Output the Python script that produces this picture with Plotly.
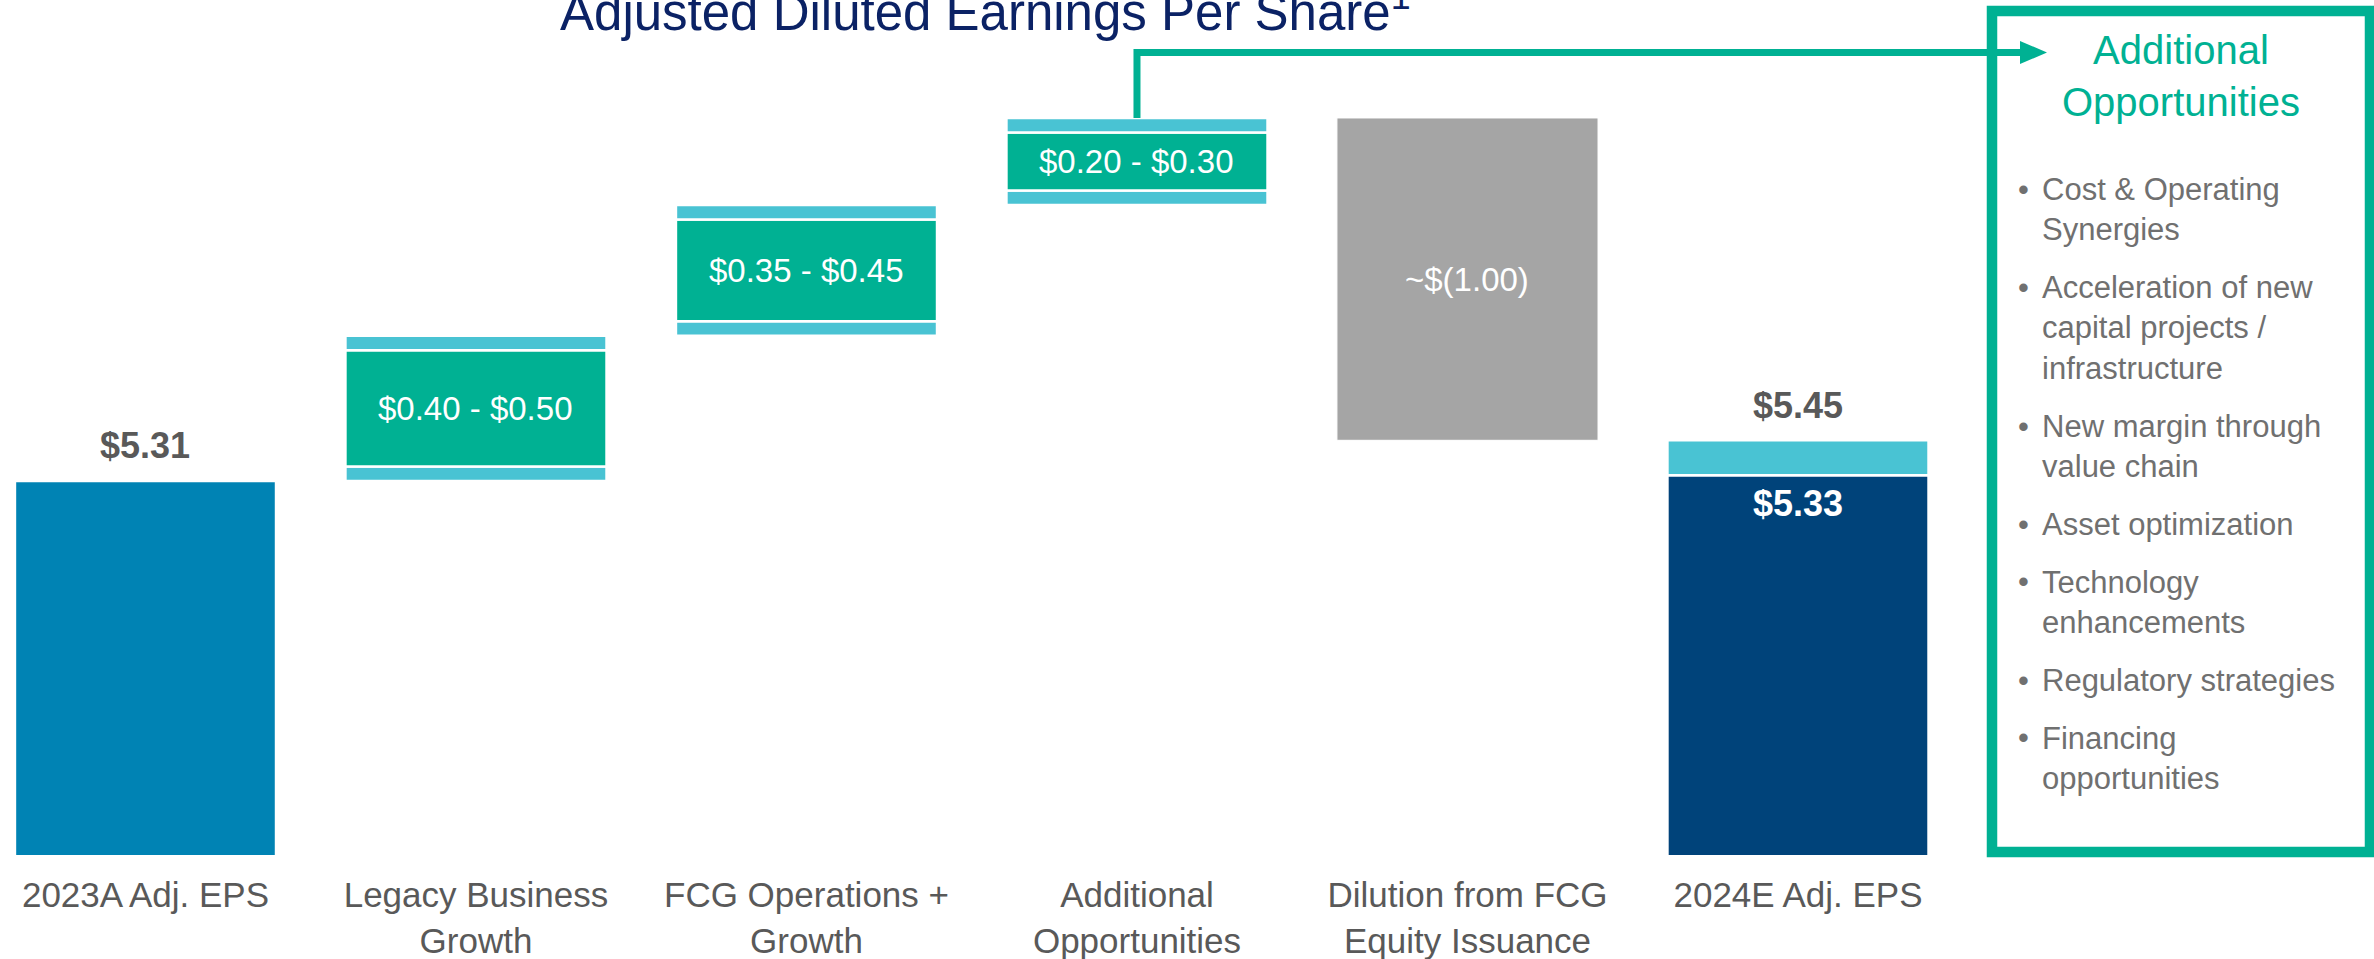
import plotly.graph_objects as go

# ---------------- data ----------------
categories = ["2023A Adj. EPS", "Legacy Business<br>Growth", "FCG Operations +<br>Growth",
              "Additional<br>Opportunities", "Dilution from FCG<br>Equity Issuance", "2024E Adj. EPS"]
start_eps = 5.31
start_label = "$5.31"
range_low = [0.40, 0.35, 0.20]
range_high = [0.50, 0.45, 0.30]
range_labels = ["$0.40 - $0.50", "$0.35 - $0.45", "$0.20 - $0.30"]
dilution_label = "~$(1.00)"
end_eps_low = 5.33
end_eps_high = 5.45
end_low_label = "$5.33"
end_high_label = "$5.45"
title_text = "Adjusted Diluted Earnings Per Share<sup>1</sup>"
box_title = "Additional<br>Opportunities"
bullets = ["Cost & Operating<br>Synergies",
           "Acceleration of new<br>capital projects /<br>infrastructure",
           "New margin through<br>value chain",
           "Asset optimization",
           "Technology<br>enhancements",
           "Regulatory strategies",
           "Financing<br>opportunities"]

# ---------------- styles ----------------
BLUE = "#0083B4"
NAVY = "#00437A"
GREEN = "#00B193"
CYAN = "#49C3D3"
GRAY = "#A5A5A5"
TXT = "#595959"
BUL = "#707070"
TITLE = "#0B2265"
FONT = "Liberation Sans, Arial, sans-serif"

W, H = 2374, 959
MB = 104
PH = H - MB
X0, X1 = -0.4402, -0.4402 + W / 330.5
Y0, Y1 = 4.022, 4.022 + PH / 290.4
BW = 0.79

def px_x(px):
    return px / W

def px_y(py):
    return 1 - py / PH

def data_x_px(x):
    return (x - X0) / (X1 - X0) * W

def data_y_px(y):
    return (Y1 - y) / (Y1 - Y0) * PH

# waterfall bases
range_x = [1, 2, 3]
range_base = []
cur = start_eps
for lo, hi in zip(range_low, range_high):
    range_base.append(cur)
    cur += hi
top_after = cur
band = [(hi - lo) / 2 for lo, hi in zip(range_low, range_high)]

fig = go.Figure()
line = dict(color="white", width=2.5)
fig.add_trace(go.Bar(x=[0, 5], y=[start_eps, end_eps_low], base=[0, 0], width=BW,
                     marker=dict(color=[BLUE, NAVY], line=line), hoverinfo="skip"))
fig.add_trace(go.Bar(x=[5], y=[end_eps_high - end_eps_low], base=[end_eps_low], width=BW,
                     marker=dict(color=CYAN, line=line), hoverinfo="skip"))
fig.add_trace(go.Bar(x=range_x, y=band, base=range_base, width=BW,
                     marker=dict(color=CYAN, line=line), hoverinfo="skip"))
green_base = [b + d for b, d in zip(range_base, band)]
fig.add_trace(go.Bar(x=range_x, y=range_low, base=green_base, width=BW,
                     marker=dict(color=GREEN, line=line), hoverinfo="skip"))
upper_base = [g + lo for g, lo in zip(green_base, range_low)]
fig.add_trace(go.Bar(x=range_x, y=band, base=upper_base, width=BW,
                     marker=dict(color=CYAN, line=line), hoverinfo="skip"))
fig.add_trace(go.Bar(x=[4], y=[top_after - end_eps_high], base=[end_eps_high], width=BW,
                     marker=dict(color=GRAY, line=dict(color="white", width=1)), hoverinfo="skip"))

ann = []
# totals
ann.append(dict(x=0, y=start_eps, text=f"<b>{start_label}</b>", showarrow=False, yanchor="middle",
                yshift=35, font=dict(size=36, color=TXT, family=FONT)))
ann.append(dict(x=5, y=end_eps_high, text=f"<b>{end_high_label}</b>", showarrow=False, yanchor="middle",
                yshift=35, font=dict(size=36, color=TXT, family=FONT)))
ann.append(dict(x=5, y=end_eps_low, text=f"<b>{end_low_label}</b>", showarrow=False, yanchor="middle",
                yshift=-28, font=dict(size=36, color="white", family=FONT)))
# range labels
for xi, g, lo, lab in zip(range_x, green_base, range_low, range_labels):
    ann.append(dict(x=xi, y=g + lo / 2, text=lab, showarrow=False, yanchor="middle",
                    font=dict(size=33, color="white", family=FONT)))
ann.append(dict(x=4, y=(top_after + end_eps_high) / 2, text=dilution_label, showarrow=False,
                yanchor="middle", font=dict(size=33, color="white", family=FONT)))
# title
ann.append(dict(xref="paper", yref="paper", x=px_x(985), y=px_y(9), text=title_text, showarrow=False,
                xanchor="center", yanchor="middle", font=dict(size=51, color=TITLE, family=FONT)))
# box title
ann.append(dict(xref="paper", yref="paper", x=px_x(2181), y=px_y(76), text=box_title, showarrow=False,
                xanchor="center", yanchor="middle", align="center",
                font=dict(size=40, color=GREEN, family=FONT)))
# bullets
LH = 40.6
GAP = 17
baseline = 200
for b in bullets:
    n = b.count("<br>") + 1
    cy = baseline + (n - 1) * LH / 2 - 10.9
    ann.append(dict(xref="paper", yref="paper", x=px_x(2040), y=px_y(cy), text=b, showarrow=False,
                    xanchor="left", yanchor="middle", align="left",
                    font=dict(size=31, color=BUL, family=FONT)))
    ann.append(dict(xref="paper", yref="paper", x=px_x(2023), y=px_y(baseline - 10.9), text="•",
                    showarrow=False, xanchor="center", yanchor="middle",
                    font=dict(size=31, color=BUL, family=FONT)))
    baseline += (n - 1) * LH + LH + GAP

shapes = []
# box
shapes.append(dict(type="rect", xref="paper", yref="paper", x0=px_x(1992), x1=px_x(2370),
                   y0=px_y(852), y1=px_y(11), line=dict(color=GREEN, width=10.5), layer="above"))
# connector
cx = data_x_px(3)
cy_top = data_y_px(top_after)
path = (f"M {px_x(cx)},{px_y(cy_top)} L {px_x(cx)},{px_y(52.5)} L {px_x(2022)},{px_y(52.5)}")
shapes.append(dict(type="path", xref="paper", yref="paper", path=path,
                   line=dict(color=GREEN, width=7), layer="above"))
head = (f"M {px_x(2020)},{px_y(41)} L {px_x(2047)},{px_y(52.5)} L {px_x(2020)},{px_y(64)} Z")
shapes.append(dict(type="path", xref="paper", yref="paper", path=head, fillcolor=GREEN,
                   line=dict(color=GREEN, width=0), layer="above"))

fig.update_layout(
    width=W, height=H, margin=dict(l=0, r=0, t=0, b=MB, pad=0),
    barmode="overlay", showlegend=False,
    plot_bgcolor="white", paper_bgcolor="white",
    annotations=ann, shapes=shapes,
    xaxis=dict(range=[X0, X1], tickvals=list(range(len(categories))), ticktext=categories,
               showgrid=False, zeroline=False, showline=False, ticks="",
               ticklabelstandoff=16,
               tickfont=dict(size=35, color=TXT, family=FONT), fixedrange=True),
    yaxis=dict(range=[Y0, Y1], visible=False, fixedrange=True),
)

fig.write_html("out.html", config={"displayModeBar": False},
               post_script="document.body.style.margin='0';document.body.style.overflow='hidden';")
